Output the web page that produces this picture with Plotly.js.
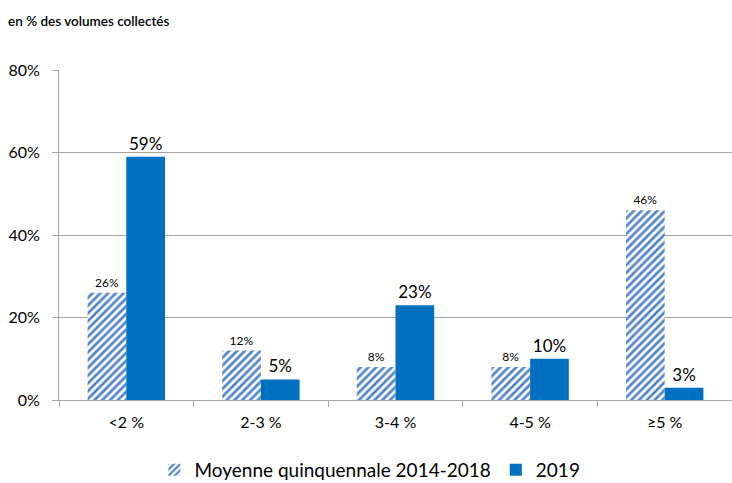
<!DOCTYPE html>
<html><head><meta charset="utf-8">
<script src="https://cdn.plot.ly/plotly-3.0.1.min.js"></script>
<style>body{margin:0;background:#fff}#c{width:732px;height:483px}</style>
</head><body><div id="c"></div>
<script>
const categories = ["<2 %", "2-3 %", "3-4 %", "4-5 %", "≥5 %"];
const moyenne = [26, 12, 8, 8, 46];
const y2019 = [59, 5, 23, 10, 3];
const seriesNames = ["Moyenne quinquennale 2014-2018", "2019"];
const font = "Lato, 'Open Sans', sans-serif";

const traces = [
  {type:'bar', name:seriesNames[0], x:categories, y:moyenne,
   text:moyenne.map(v=>v+'%'), textposition:'outside', cliponaxis:false,
   textfont:{size:12, color:'#000', family:font},
   marker:{color:'#ffffff', line:{width:0},
     pattern:{shape:'/', fgcolor:'#5585cb', bgcolor:'#ffffff', size:5.5, solidity:0.5}},
   hoverinfo:'none'},
  {type:'bar', name:seriesNames[1], x:categories, y:y2019,
   text:y2019.map(v=>v+'%'), textposition:'outside', cliponaxis:false,
   textfont:{size:17, color:'#000', family:font},
   marker:{color:'#0070c0', line:{width:0}}, hoverinfo:'none'}
];

const layout = {
  width:732, height:483,
  margin:{l:59, r:0, t:70, b:83, autoexpand:false},
  paper_bgcolor:'#fff', plot_bgcolor:'#fff',
  font:{family:font, color:'#000'},
  barmode:'group', bargap:0.425, bargroupgap:0,
  title:{text:'en % des volumes collectés', x:0.011, xanchor:'left', xref:'container',
         y:0.955, yanchor:'middle', yref:'container', font:{size:13.5, color:'#000', family:font, weight:600}},
  xaxis:{type:'category', showgrid:false, showline:true, linecolor:'#a6a6a6', linewidth:1,
         ticks:'outside', tickson:'boundaries', ticklen:6, tickcolor:'#a6a6a6',
         ticklabelstandoff:8, tickfont:{size:16, color:'#000'}, fixedrange:true},
  yaxis:{range:[0,80], dtick:20, ticksuffix:'%', showgrid:true, gridcolor:'#a6a6a6', gridwidth:1,
         showline:true, linecolor:'#a6a6a6', linewidth:1, ticks:'outside', ticklen:6,
         tickcolor:'#a6a6a6', ticklabelstandoff:9, tickfont:{size:16, color:'#000'}, zeroline:false, fixedrange:true},
  showlegend:true,
  legend:{orientation:'h', x:0.462, xanchor:'center', y:-0.212, yanchor:'middle',
          font:{size:19, color:'#000'}, itemwidth:30, traceorder:'normal'}
};
Plotly.newPlot('c', traces, layout, {displayModeBar:false, staticPlot:true});
</script></body></html>
